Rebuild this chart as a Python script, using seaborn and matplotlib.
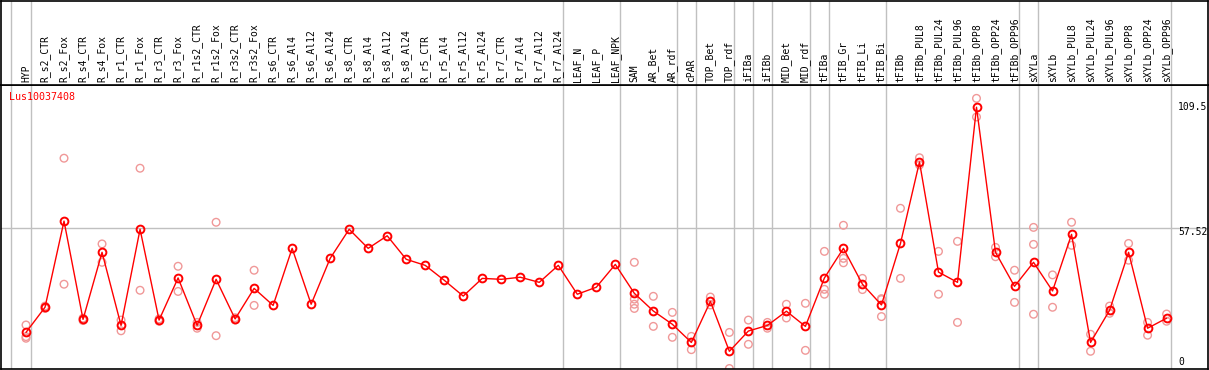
import matplotlib
matplotlib.use("Agg")
import matplotlib.pyplot as plt
import seaborn as sns
import numpy as np
import pandas as pd

categories = ["HYP", "R_s2_CTR", "R_s2_Fox", "R_s4_CTR", "R_s4_Fox", "R_r1_CTR", "R_r1_Fox",
              "R_r3_CTR", "R_r3_Fox", "R_r1s2_CTR", "R_r1s2_Fox", "R_r3s2_CTR", "R_r3s2_Fox",
              "R_s6_CTR", "R_s6_Al4", "R_s6_Al12", "R_s6_Al24", "R_s8_CTR", "R_s8_Al4",
              "R_s8_Al12", "R_s8_Al24", "R_r5_CTR", "R_r5_Al4", "R_r5_Al12", "R_r5_Al24",
              "R_r7_CTR", "R_r7_Al4", "R_r7_Al12", "R_r7_Al24", "LEAF_N", "LEAF_P", "LEAF_NPK",
              "SAM", "AR_Bet", "AR_rdf", "cPAR", "TOP_Bet", "TOP_rdf", "iFIBa", "iFIBb",
              "MID_Bet", "MID_rdf", "tFIBa", "tFIB_Gr", "tFIB_Li", "tFIB_Bi", "tFIBb",
              "tFIBb_PUL8", "tFIBb_PUL24", "tFIBb_PUL96", "tFIBb_OPP8", "tFIBb_OPP24",
              "tFIBb_OPP96", "sXYLa", "sXYLb", "sXYLb_PUL8", "sXYLb_PUL24", "sXYLb_PUL96",
              "sXYLb_OPP8", "sXYLb_OPP24", "sXYLb_OPP96"]

means = [12.7, 23.5, 60.5, 18.3, 47.1, 15.7, 57.0, 18.0, 36.1, 15.7, 35.5, 18.5, 31.6,
         24.3, 48.8, 24.8, 44.5, 57.0, 48.8, 54.2, 44.1, 41.5, 35.1, 28.3, 35.9,
         35.5, 36.4, 34.2, 41.5, 29.1, 32.1, 41.9,
         29.5, 21.9, 16.2, 8.4, 26.0, 4.6, 13.3, 15.7, 21.8, 15.3,
         36.1, 48.8, 33.4, 24.5, 50.9,
         85.9, 38.6, 34.2, 109.4, 47.1, 32.5,
         42.8, 30.5, 54.8, 8.4, 22.2, 47.1, 14.5, 18.8]

replicates = {
    "HYP": [15.9, 10.9, 10.2],
    "R_s2_CTR": [24.0, 23.0],
    "R_s2_Fox": [87.5, 33.4],
    "R_s4_CTR": [18.8, 17.8],
    "R_s4_Fox": [50.7, 42.8],
    "R_r1_CTR": [18.0, 13.4],
    "R_r1_Fox": [83.2, 30.8],
    "R_r3_CTR": [18.5, 17.5],
    "R_r3_Fox": [41.1, 30.3],
    "R_r1s2_CTR": [17.0, 14.5],
    "R_r1s2_Fox": [60.0, 11.3],
    "R_r3s2_CTR": [19.0, 18.0],
    "R_r3s2_Fox": [39.4, 24.3],
    "SAM": [42.8, 27.0, 24.8, 23.0],
    "AR_Bet": [28.2, 15.3],
    "AR_rdf": [21.3, 10.6],
    "cPAR": [11.0, 5.3],
    "TOP_Bet": [27.9, 24.5],
    "TOP_rdf": [12.7, -2.8],
    "iFIBa": [18.0, 7.6],
    "iFIBb": [17.0, 14.5],
    "MID_Bet": [24.8, 18.9],
    "MID_rdf": [25.2, 5.0],
    "tFIBa": [47.5, 31.2, 29.1],
    "tFIB_Gr": [58.7, 44.5, 42.6],
    "tFIB_Li": [35.9, 31.1],
    "tFIB_Bi": [27.2, 26.8, 19.5],
    "tFIBb": [66.0, 35.9],
    "tFIBb_PUL8": [87.7, 84.6],
    "tFIBb_PUL24": [47.5, 29.1],
    "tFIBb_PUL96": [51.8, 17.0],
    "tFIBb_OPP8": [113.2, 105.2],
    "tFIBb_OPP24": [49.2, 45.2],
    "tFIBb_OPP96": [39.4, 25.6],
    "sXYLa": [57.8, 50.5, 20.5],
    "sXYLb": [37.4, 23.5],
    "sXYLb_PUL8": [60.0, 50.1],
    "sXYLb_PUL24": [11.9, 4.6],
    "sXYLb_PUL96": [24.0, 20.9],
    "sXYLb_OPP8": [50.9, 43.7],
    "sXYLb_OPP24": [17.0, 11.5],
    "sXYLb_OPP96": [20.6, 17.5],
}

separator_after = ["HYP", "R_r7_Al24", "LEAF_NPK", "AR_rdf", "cPAR", "TOP_rdf", "iFIBa",
                   "iFIBb", "MID_rdf", "tFIBa", "tFIB_Bi", "tFIBb_OPP96", "sXYLa", "sXYLb_OPP96"]

y_labels = [109.5, 57.52, 0]
gene = "Lus10037408"

sns.set_style("white")
plt.rcParams["font.family"] = ["DejaVu Sans Mono", "DejaVu Sans"]

W, H = 1209, 370
fig = plt.figure(figsize=(W / 100, H / 100), dpi=100)

# pixel geometry
x0_px, step_px = 26.0, 19.01
left_px, right_px = 1.0, 1208.0
top_px, bot_px = 85.0, 369.0
xlim = ((left_px - x0_px) / step_px, (right_px - x0_px) / step_px)
ppu = 2.329
zero_px = 362.0
ylim = (-(bot_px - zero_px) / ppu, (zero_px - top_px) / ppu)

ax = fig.add_axes([left_px / W, (H - bot_px) / H, (right_px - left_px) / W, (bot_px - top_px) / H])
hx = fig.add_axes([left_px / W, (H - top_px) / H, (right_px - left_px) / W, (top_px - 0.5) / H])

idx = {c: i for i, c in enumerate(categories)}
df_mean = pd.DataFrame({"x": np.arange(len(categories)), "y": means})
rows = []
for c, vals in replicates.items():
    for v in vals:
        rows.append({"x": idx[c], "y": v})
df_rep = pd.DataFrame(rows)

sep_x = [-0.79] + [idx[c] + 0.25 for c in separator_after]
for a in (ax, hx):
    for sx in sep_x:
        a.axvline(sx, color="#c0c0c0", lw=1.0, zorder=0)
ax.axhline(57.52, color="#c0c0c0", lw=1.0, zorder=0)

sns.scatterplot(data=df_rep, x="x", y="y", ax=ax, marker="o", s=30,
                facecolor="none", edgecolor="#f09898", linewidth=1.0, zorder=2, legend=False)
sns.lineplot(data=df_mean, x="x", y="y", ax=ax, color="#ff0000", lw=1.0,
             marker="o", markersize=5.6, markerfacecolor="none", markeredgecolor="#ff0000",
             markeredgewidth=1.4, zorder=3, legend=False)

ax.set_xlim(*xlim)
ax.set_ylim(*ylim)
ax.set_xticks([])
ax.set_yticks([])
ax.set_xlabel("")
ax.set_ylabel("")
for s in ax.spines.values():
    s.set_color("black")
    s.set_linewidth(1.2)

for v in y_labels:
    off = -1.7 if v == 57.52 else 0
    ax.text((1178 - x0_px) / step_px, v + off, f"{v:g}", fontsize=7, ha="left", va="center",
            color="black")

ax.text((9 - x0_px) / step_px, (zero_px - 97) / ppu, gene, color="#ff0000", fontsize=7.2,
        ha="left", va="center")

hx.set_xlim(*xlim)
hx.set_ylim(0, 1)
hx.set_xticks([])
hx.set_yticks([])
for s in hx.spines.values():
    s.set_color("black")
    s.set_linewidth(1.2)
for i, c in enumerate(categories):
    hx.text(i, 0.03, c, rotation=90, ha="center", va="bottom", fontsize=7, color="black")

fig.savefig("out.png", dpi=100)
